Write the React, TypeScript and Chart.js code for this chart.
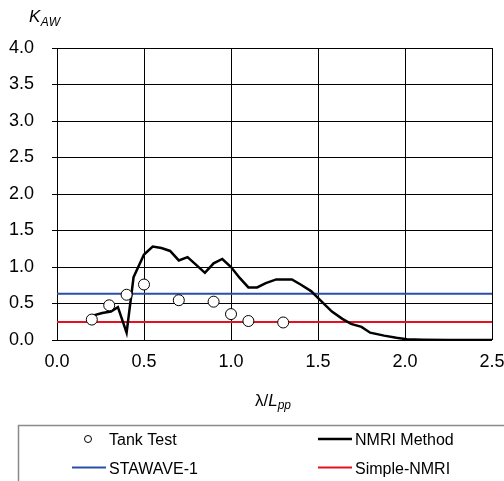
import React, { useEffect, useRef } from "react";
import { Chart, registerables } from "chart.js";

Chart.register(...registerables);

// Tank test measurements
const tankX = [0.2, 0.3, 0.4, 0.5, 0.7, 0.9, 1.0, 1.1, 1.3];
const tankY = [0.28, 0.475, 0.62, 0.76, 0.545, 0.525, 0.355, 0.26, 0.24];

// NMRI method curve
const nmriX = [0.2, 0.26, 0.31, 0.35, 0.4, 0.44, 0.5, 0.55, 0.6, 0.65, 0.7, 0.75, 0.8, 0.85, 0.9, 0.95, 1.0, 1.05, 1.1, 1.15, 1.2, 1.26, 1.3, 1.35, 1.4, 1.46, 1.52, 1.58, 1.64, 1.69, 1.75, 1.8, 1.88, 1.95, 2.01, 2.1, 2.25, 2.5];
const nmriY = [0.33, 0.37, 0.39, 0.45, 0.1, 0.86, 1.17, 1.28, 1.26, 1.22, 1.09, 1.135, 1.03, 0.92, 1.05, 1.11, 1.0, 0.85, 0.72, 0.72, 0.78, 0.83, 0.83, 0.83, 0.76, 0.67, 0.53, 0.39, 0.29, 0.22, 0.18, 0.1, 0.06, 0.03, 0.01, 0.005, 0, 0];

// Constant-value estimates
const stawaveX = [0, 2.5];
const stawaveY = [0.635, 0.635];
const simpleX = [0, 2.5];
const simpleY = [0.245, 0.245];

const xTicks = [0, 0.5, 1.0, 1.5, 2.0, 2.5];
const yTicks = [0, 0.5, 1.0, 1.5, 2.0, 2.5, 3.0, 3.5, 4.0];

const FONT = "'Liberation Sans', Arial, sans-serif";
const BLUE = "#2a4fa5";
const RED = "#e8101e";

const pts = (xs: number[], ys: number[]) => xs.map((x, i) => ({ x, y: ys[i] }));

const titlesAndLegend = {
  id: "titlesAndLegend",
  afterDraw(chart: any) {
    const ctx = chart.ctx as CanvasRenderingContext2D;
    ctx.save();
    ctx.fillStyle = "#000";
    ctx.textBaseline = "alphabetic";
    ctx.textAlign = "left";

    // y-axis title K_AW
    ctx.font = `italic 17px ${FONT}`;
    ctx.fillText("K", 29, 22);
    const kw = ctx.measureText("K").width;
    ctx.font = `italic 12px ${FONT}`;
    ctx.fillText("AW", 29 + kw + 0.5, 25.5);

    // x-axis title λ/L_pp
    let x = 255;
    ctx.font = `17px ${FONT}`;
    ctx.fillText("λ/", x, 405.5);
    x += ctx.measureText("λ/").width;
    ctx.font = `italic 17px ${FONT}`;
    ctx.fillText("L", x, 405.5);
    x += ctx.measureText("L").width;
    ctx.font = `italic 12px ${FONT}`;
    ctx.fillText("pp", x, 409);

    // legend frame
    ctx.strokeStyle = "#8a8a8a";
    ctx.lineWidth = 1.5;
    ctx.beginPath();
    ctx.moveTo(18.5, 482);
    ctx.lineTo(18.5, 425.5);
    ctx.lineTo(505, 425.5);
    ctx.stroke();

    const ds = chart.data.datasets;
    ctx.font = `16px ${FONT}`;
    // Tank Test
    ctx.beginPath();
    ctx.arc(88, 439, 3.5, 0, Math.PI * 2);
    ctx.fillStyle = "#fff";
    ctx.fill();
    ctx.strokeStyle = "#000";
    ctx.lineWidth = 1;
    ctx.stroke();
    ctx.fillStyle = "#000";
    ctx.fillText(ds[0].label, 109, 445);

    const lineItem = (x0: number, y: number, color: string, w: number, label: string) => {
      ctx.beginPath();
      ctx.moveTo(x0, y);
      ctx.lineTo(x0 + 34, y);
      ctx.strokeStyle = color;
      ctx.lineWidth = w;
      ctx.stroke();
      ctx.fillStyle = "#000";
      ctx.fillText(label, x0 + 37, y + 6);
    };
    lineItem(318, 439, ds[1].borderColor, 2.5, ds[1].label);
    lineItem(72, 467.5, ds[2].borderColor, 2, ds[2].label);
    lineItem(318, 467.5, ds[3].borderColor, 2, ds[3].label);
    ctx.restore();
  },
};

export default function App() {
  const ref = useRef<HTMLCanvasElement>(null);

  useEffect(() => {
    if (!ref.current) return;
    const chart = new Chart(ref.current, {
      type: "scatter",
      data: {
        datasets: [
          {
            label: "Tank Test",
            data: pts(tankX, tankY),
            showLine: false,
            pointRadius: 5.5,
            pointBackgroundColor: "#fff",
            pointBorderColor: "#000",
            pointBorderWidth: 1,
          },
          {
            label: "NMRI Method",
            data: pts(nmriX, nmriY),
            showLine: true,
            borderColor: "#000",
            borderWidth: 2.5,
            pointRadius: 0,
            tension: 0,
          },
          {
            label: "STAWAVE-1",
            data: pts(stawaveX, stawaveY),
            showLine: true,
            borderColor: BLUE,
            borderWidth: 2,
            pointRadius: 0,
          },
          {
            label: "Simple-NMRI",
            data: pts(simpleX, simpleY),
            showLine: true,
            borderColor: RED,
            borderWidth: 2,
            pointRadius: 0,
          },
        ] as any,
      },
      options: {
        animation: false,
        responsive: false,
        layout: { padding: { left: 0, right: 12, top: 48, bottom: 0 } },
        plugins: { legend: { display: false }, tooltip: { enabled: false } },
        scales: {
          x: {
            type: "linear",
            min: 0,
            max: 2.5,
            afterBuildTicks: (s: any) => {
              s.ticks = xTicks.map((v) => ({ value: v }));
            },
            afterFit: (s: any) => {
              s.height = 141;
              s.paddingLeft = 0;
              s.paddingRight = 0;
            },
            ticks: {
              padding: 11,
              color: "#000",
              font: { family: FONT, size: 18 },
              callback: (v: any) => Number(v).toFixed(1),
            },
            grid: { color: "#000", lineWidth: 1, drawTicks: false },
            border: { display: false },
          },
          y: {
            type: "linear",
            min: 0,
            max: 4,
            afterBuildTicks: (s: any) => {
              s.ticks = yTicks.map((v) => ({ value: v }));
            },
            afterFit: (s: any) => {
              s.width = 57;
              s.paddingTop = 0;
              s.paddingBottom = 0;
            },
            ticks: {
              padding: 18,
              color: "#000",
              font: { family: FONT, size: 18 },
              callback: (v: any) => Number(v).toFixed(1),
            },
            grid: { color: "#000", lineWidth: 1, drawTicks: true, tickLength: 5 },
            border: { display: true, color: "#000", width: 1 },
          },
        },
      },
      plugins: [titlesAndLegend],
    });
    return () => chart.destroy();
  }, []);

  return (
    <div style={{ position: "absolute", left: 0, top: 0, width: 504, height: 481, background: "#fff" }}>
      <canvas ref={ref} width={504} height={481} style={{ display: "block" }} />
    </div>
  );
}
